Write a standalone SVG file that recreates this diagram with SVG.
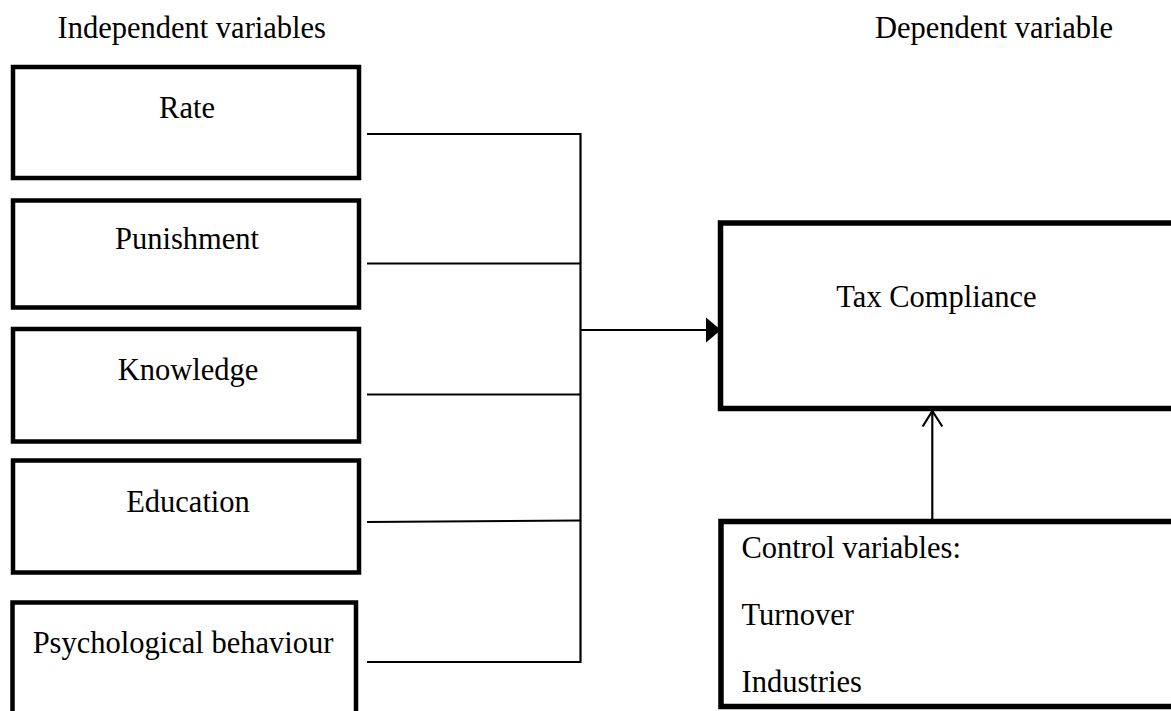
<svg xmlns="http://www.w3.org/2000/svg" width="1171" height="711" viewBox="0 0 1171 711">
  <style>
    .box { fill: #ffffff; stroke: #000000; stroke-width: 4.5; }
    .bigbox { fill: #ffffff; stroke: #000000; stroke-width: 5.5; }
    .lbl { font-family: "Liberation Serif", "Times New Roman", serif; font-size: 30.5px; fill: #000000; }
    .mid { text-anchor: middle; }
    .conn { stroke: #000000; stroke-width: 2.2; fill: none; }
  </style>
  <rect width="1171" height="711" fill="#ffffff"/>

  <text class="lbl" x="57.5" y="38">Independent variables</text>
  <text class="lbl" x="875" y="38">Dependent variable</text>

  <g id="node-rate">
    <rect class="box" x="13" y="67" width="346" height="111"/>
    <text class="lbl mid" x="187" y="118">Rate</text>
  </g>
  <g id="node-punishment">
    <rect class="box" x="13" y="200.5" width="346" height="107"/>
    <text class="lbl mid" x="187" y="249">Punishment</text>
  </g>
  <g id="node-knowledge">
    <rect class="box" x="13" y="329" width="346" height="112.5"/>
    <text class="lbl mid" x="188" y="380">Knowledge</text>
  </g>
  <g id="node-education">
    <rect class="box" x="13" y="460.5" width="346" height="112"/>
    <text class="lbl mid" x="188" y="511.5">Education</text>
  </g>
  <g id="node-psych">
    <rect class="box" x="12.5" y="602.5" width="343.5" height="130"/>
    <text class="lbl mid" x="183" y="652.5">Psychological behaviour</text>
  </g>
  <g id="node-tax">
    <rect class="bigbox" x="720.5" y="223" width="500" height="185.5"/>
    <text class="lbl mid" x="936.5" y="306.5">Tax Compliance</text>
  </g>
  <g id="node-control">
    <rect class="bigbox" x="721" y="521.5" width="500" height="185"/>
    <text class="lbl" x="741.5" y="557.5">Control variables:</text>
    <text class="lbl" x="741.5" y="625">Turnover</text>
    <text class="lbl" x="741.5" y="692">Industries</text>
  </g>

  <g id="connectors">
    <line class="conn" x1="367" y1="134" x2="580.5" y2="134"/>
    <line class="conn" x1="367" y1="263.5" x2="580.5" y2="263.5"/>
    <line class="conn" x1="367" y1="394.5" x2="580.5" y2="394.5"/>
    <line class="conn" x1="367" y1="522" x2="580.5" y2="520.5"/>
    <line class="conn" x1="367" y1="662" x2="580.5" y2="662"/>
    <line class="conn" x1="580.5" y1="133" x2="580.5" y2="663"/>
    <line class="conn" x1="580.5" y1="330" x2="708" y2="330"/>
    <polygon points="706,317.5 721,330 706,342.5" fill="#000000"/>
    <line class="conn" x1="932.3" y1="519" x2="932.3" y2="411"/>
    <polyline class="conn" points="922.7,426.5 932.3,411 942.3,426.5"/>
  </g>
</svg>
